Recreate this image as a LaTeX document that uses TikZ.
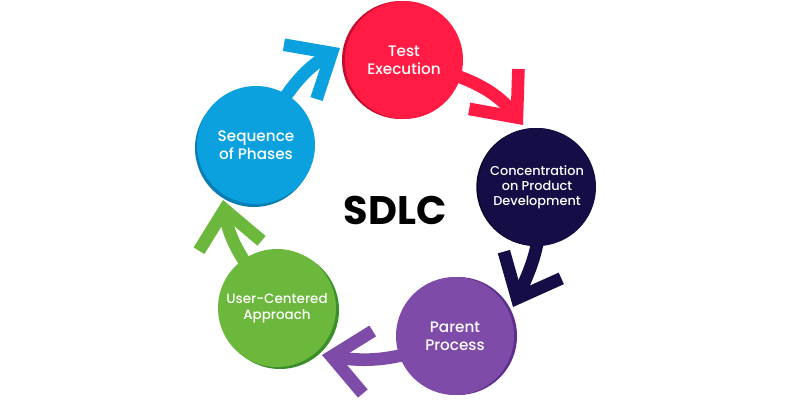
\documentclass[tikz,border=0pt]{standalone}
\usepackage{fontspec}
\setsansfont{Poppins}
\newfontfamily\popmed{Poppins Medium}
\usetikzlibrary{arrows.meta,shadows,backgrounds}

\definecolor{redF}{RGB}{255,27,68}
\definecolor{redD}{RGB}{196,14,48}
\definecolor{navyF}{RGB}{20,13,70}
\definecolor{navyD}{RGB}{10,6,40}
\definecolor{purpleF}{RGB}{126,75,168}
\definecolor{purpleD}{RGB}{94,46,142}
\definecolor{greenF}{RGB}{107,184,60}
\definecolor{greenD}{RGB}{58,143,43}
\definecolor{blueF}{RGB}{11,161,223}
\definecolor{blueD}{RGB}{10,125,181}

\tikzset{
  disc/.style={circle, fill=#1, minimum size=35.4mm, inner sep=0pt, align=center,
    text=white, font=\popmed\fontsize{13}{15.5}\selectfont},
  arr/.style={draw=#1, line width=3.8mm, -{Straight Barb[length=11mm,width=19mm,sharp]}},
}

\begin{document}
\begin{tikzpicture}[x=0.3mm,y=-0.3mm]
      \useasboundingbox (0,0) rectangle (800,400);

      \coordinate (tipA) at (340,48);
      \coordinate (tipB) at (523,125);
      \coordinate (tipC) at (513,307);
      \coordinate (tipD) at (322,355);
      \coordinate (tipE) at (223,200);

      \node[disc=blueF, general shadow={fill=blueD, shadow xshift=-0.6mm, shadow yshift=-0.9mm}] at (256,145) (seq) {Sequence\\of Phases};
      \node[disc=redF, general shadow={fill=redD, shadow xshift=-0.9mm}] at (404,60) (test) {Test\\Execution};
      \node[disc=navyF, general shadow={fill=navyD, shadow xshift=-0.5mm}, font=\popmed\fontsize{11}{12.8}\selectfont] at (537,187) (conc) {Concentration\\on Product\\Development};
      \node[disc=purpleF, general shadow={fill=purpleD, shadow xshift=0.9mm}] at (455,336) (parent) {Parent\\Process};
      \node[disc=greenF, general shadow={fill=greenD, shadow xshift=0.9mm, shadow yshift=-0.6mm}, font=\popmed\fontsize{11.5}{14}\selectfont] at (277,308) (user) {User-Centered\\Approach};

      \node[font=\sffamily\bfseries\fontsize{34}{40}\selectfont] at (395,210) (sdlc) {SDLC};

      % draw arrows
      \begin{scope}[on background layer]
      \draw[arr=blueF] (seq.center) to[out=60,in=211] (tipA);
      \draw[arr=redF] (test.center) to[out=-15,in=129] (tipB);
      \draw[arr=navyF] (conc.center) to[out=-80,in=65] (tipC);
      \draw[arr=purpleF] (parent.center) to[out=205,in=-9] (tipD);
      \draw[arr=greenF] (user.center) to[out=125,in=279] (tipE);
      \end{scope}
  \end{tikzpicture}
\end{document}
